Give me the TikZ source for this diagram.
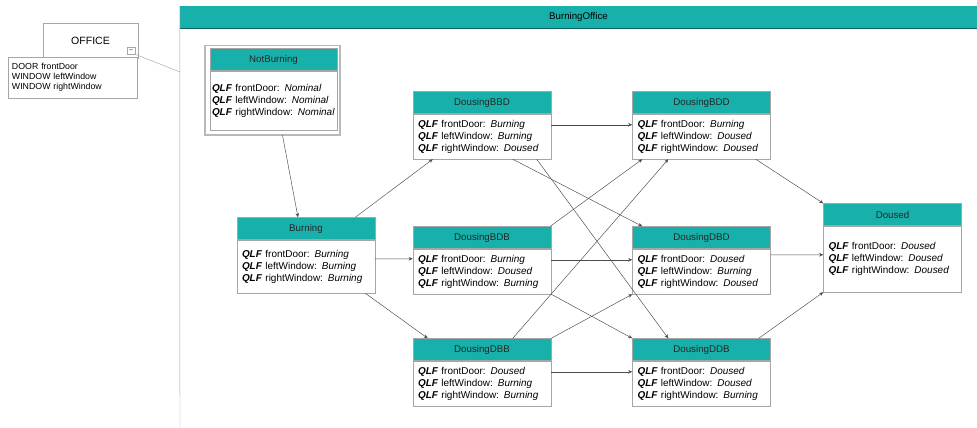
\documentclass[tikz,border=0pt]{standalone}
\usepackage{fontspec}
\setmainfont{Liberation Sans}
\usetikzlibrary{positioning,arrows.meta}

\definecolor{hdr}{RGB}{24,176,170}
\definecolor{hdrdark}{RGB}{16,96,94}
\newcommand{\statefont}{\fontsize{8.5}{10.2}\selectfont}
\newcommand{\stateheadfont}{\fontsize{8.3}{9}\selectfont}
\newcommand{\qlf}{\textbf{\textit{QLF}}}

\tikzset{
  statehead/.style={draw=gray!70, fill=hdr, minimum width=41.4mm, minimum height=6.6mm,
    inner sep=0pt, font=\stateheadfont, text=black!85},
  statebody/.style={draw=gray!70, fill=white, text width=38.4mm, inner xsep=1.5mm,
    inner ysep=0pt, minimum height=13.5mm, align=left, font=\statefont},
  trans/.style={draw=black!70, line width=0.4pt, -{Stealth[length=3.5pt,width=3pt]}},
}

\begin{document}
\begin{tikzpicture}[x=0.3mm,y=-0.3mm]
    \useasboundingbox (0,0) rectangle (977,427);

    % Office class and its parts
    \node[draw=gray!70, minimum width=28.5mm, minimum height=10.5mm, font=\fontsize{9}{10}\selectfont] (office) at (90.5,40.5) {OFFICE};
    \node[draw=gray!70, fill=white, text width=36.3mm, inner xsep=1.2mm, minimum height=12.3mm, align=left, font=\fontsize{7.5}{8.5}\selectfont] (officeparts) at (72.5,77.5) {DOOR frontDoor\\WINDOW leftWindow\\WINDOW rightWindow};
    \node[draw=gray!70, fill=white, minimum width=2.4mm, minimum height=2.1mm, inner sep=0pt] (officeicon) at (131,50.5) {};
    \draw[gray!70] ([shift={(2,-1)}]officeicon.west) -- ([shift={(-2,-1)}]officeicon.east);

    % Frame of the behaviour
    \node[fill=hdr, minimum width=239.1mm, minimum height=6.6mm, inner sep=0pt, font=\stateheadfont] (frame-t) at (578.5,17) {BurningOffice};
    \draw[hdrdark, line width=1pt] (frame-t.south west) -- (frame-t.south east);
    \draw[gray!70] (frame-t.north west) -- (180,427);
    \coordinate (framelink) at (180,72);
    \draw[gray!70] (officeicon.south east) -- (framelink);

    % Start state
    \node[statebody, text width=36.9mm, inner xsep=0.6mm, minimum height=17.7mm] (nb) at (273.5,100.5) {\qlf{} frontDoor: \textit{Nominal}\\ \qlf{} leftWindow: \textit{Nominal}\\ \mbox{\qlf{} rightWindow: \textit{Nominal}}\par\vspace{4.2mm}};
    \node[statehead, above=0pt of nb, minimum width=38.1mm] (nb-t) {NotBurning};
    \draw[gray!55, line width=1.3pt] ([shift={(-5,-3)}]nb-t.north west) rectangle ([shift={(3,5)}]nb.south east);

    % All three burning
    \node[statebody, minimum height=15.9mm] (burning) at (306,266.5) {\qlf{} frontDoor: \textit{Burning}\\ \qlf{} leftWindow: \textit{Burning}\\ \qlf{} rightWindow: \textit{Burning}\par\vspace{2.4mm}};
    \node[statehead, above=0pt of burning] (burning-t) {Burning};

    % One part doused
    \node[statebody] (bbd) at (482,136.5) {\qlf{} frontDoor: \textit{Burning}\\ \qlf{} leftWindow: \textit{Burning}\\ \qlf{} rightWindow: \textit{Doused}};
    \node[statehead, above=0pt of bbd] (bbd-t) {DousingBBD};
    \node[statebody] (bdb) at (482,271.5) {\qlf{} frontDoor: \textit{Burning}\\ \qlf{} leftWindow: \textit{Doused}\\ \qlf{} rightWindow: \textit{Burning}};
    \node[statehead, above=0pt of bdb] (bdb-t) {DousingBDB};
    \node[statebody] (dbb) at (482,383.5) {\qlf{} frontDoor: \textit{Doused}\\ \qlf{} leftWindow: \textit{Burning}\\ \qlf{} rightWindow: \textit{Burning}};
    \node[statehead, above=0pt of dbb] (dbb-t) {DousingDBB};

    % Two parts doused
    \node[statebody] (bdd) at (701.5,136.5) {\qlf{} frontDoor: \textit{Burning}\\ \qlf{} leftWindow: \textit{Doused}\\ \qlf{} rightWindow: \textit{Doused}};
    \node[statehead, above=0pt of bdd] (bdd-t) {DousingBDD};
    \node[statebody] (dbd) at (701.5,271.5) {\qlf{} frontDoor: \textit{Doused}\\ \qlf{} leftWindow: \textit{Burning}\\ \qlf{} rightWindow: \textit{Doused}};
    \node[statehead, above=0pt of dbd] (dbd-t) {DousingDBD};
    \node[statebody] (ddb) at (701.5,383.5) {\qlf{} frontDoor: \textit{Doused}\\ \qlf{} leftWindow: \textit{Doused}\\ \qlf{} rightWindow: \textit{Burning}};
    \node[statehead, above=0pt of ddb] (ddb-t) {DousingDDB};

    % All doused
    \node[statebody, minimum height=19.8mm] (doused) at (892.5,259) {\qlf{} frontDoor: \textit{Doused}\\ \qlf{} leftWindow: \textit{Doused}\\ \qlf{} rightWindow: \textit{Doused}\par\vspace{6.3mm}};
    \node[statehead, above=0pt of doused] (doused-t) {Doused};

    % Transitions
    \draw[trans] ([shift={(9,5)}]nb.south) -- ([shift={(-8,0)}]burning-t.north);
    \draw[trans] ([shift={(-20,0)}]burning-t.north east) -- ([shift={(20,0)}]bbd.south west);
    \draw[trans] ([shift={(0,19)}]burning.north east) -- ([shift={(0,10)}]bdb.north west);
    \draw[trans] ([shift={(-10,0)}]burning.south east) -- ([shift={(15,0)}]dbb-t.north west);

    \draw[trans] ([shift={(0,11)}]bbd.north east) -- ([shift={(0,11)}]bdd.north west);
    \draw[trans] ([shift={(100,0)}]bbd.south west) -- ([shift={(10,0)}]dbd-t.north west);
    \draw[trans] ([shift={(124,0)}]bbd.south west) -- ([shift={(36,0)}]ddb-t.north west);

    \draw[trans] ([shift={(-1,0)}]bdb-t.north east) -- ([shift={(10,0)}]bdd.south west);
    \draw[trans] ([shift={(0,11)}]bdb.north east) -- ([shift={(0,11)}]dbd.north west);
    \draw[trans] (bdb.south east) -- (ddb-t.north west);

    \draw[trans] ([shift={(100,0)}]dbb-t.north west) -- ([shift={(36,0)}]bdd.south west);
    \draw[trans] (dbb-t.north east) -- (dbd.south west);
    \draw[trans] ([shift={(0,11)}]dbb.north east) -- ([shift={(0,11)}]ddb.north west);

    \draw[trans] ([shift={(-15,0)}]bdd.south east) -- (doused-t.north west);
    \draw[trans] ([shift={(0,6)}]dbd.north east) -- ([shift={(0,29)}]doused.north west);
    \draw[trans] ([shift={(-12,0)}]ddb-t.north east) -- (doused.south west);
\end{tikzpicture}
\end{document}
